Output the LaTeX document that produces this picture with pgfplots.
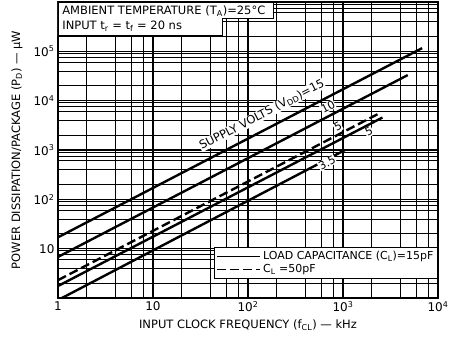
\documentclass[border=0pt]{standalone}
\usepackage{fontspec}
\setmainfont{DejaVu Sans}
\usepackage{pgfplots}
\pgfplotsset{compat=1.18}
\usetikzlibrary{calc}

\newcommand{\sub}[1]{\textsubscript{#1}}
\newcommand{\sps}[1]{\textsuperscript{#1}}

\begin{document}
\begin{tikzpicture}
\begin{axis}[
    scale only axis,
    width=380pt, height=296pt,
    xmode=log, ymode=log,
    xmin=1, xmax=1e4, ymin=1, ymax=1e6,
    xtick={1,10,100,1000,10000},
    xticklabels={1,10,10\sps{2},10\sps{3},10\sps{4}},
    ytick={10,100,1000,10000,100000},
    yticklabels={10,10\sps{2},10\sps{3},10\sps{4},10\sps{5}},
    minor xtick={2,4,6,8,20,40,60,80,200,400,600,800,2000,4000,6000,8000},
    minor ytick={2,4,6,7.5,9,20,40,60,75,90,200,400,600,750,900,2000,4000,6000,7500,9000,
                 20000,40000,60000,75000,90000,200000,400000,600000,750000,900000},
    grid=both,
    major grid style={black, line width=1.3pt},
    minor grid style={black, line width=0.9pt},
    major tick length=0pt, minor tick length=0pt,
    axis line style={black, line width=1.4pt},
    /pgf/number format/assume math mode=true,
    tick label style={font=\fontsize{12}{13}\selectfont},
    xlabel={INPUT CLOCK FREQUENCY (f\sub{CL}) — kHz},
    ylabel={POWER DISSIPATION/PACKAGE (P\sub{D}) — μW},
    label style={font=\fontsize{11.5}{12}\selectfont},
    xlabel style={at={(axis description cs:0.5,-0.091)}, anchor=center},
    ylabel style={at={(axis description cs:-0.108,0.5)}, anchor=center},
    legend style={at={(rel axis cs:1,0.172)}, anchor=north east, draw=black,
        line width=1pt, fill=white, font=\fontsize{11}{12}\selectfont,
        inner sep=2pt, row sep=-1pt, cells={anchor=west}},
    legend image code/.code={\draw[#1, line width=1.3pt] (0pt,0pt) -- (43pt,0pt);},
]
% CL = 15 pF, VDD = 15 V
\addplot[black, line width=2.4pt, no markers] coordinates {(1,17) (6800,116000)};
\addlegendentry{LOAD CAPACITANCE (C\sub{L})=15pF}
% CL = 50 pF, VDD = 5 V
\addplot[black, line width=2.4pt, no markers, dash pattern=on 9pt off 4pt]
    coordinates {(1,2.3) (2500,5750)};
\addlegendentry{C\sub{L} =50pF}
% CL = 15 pF, VDD = 10, 5, 3.5 V
\addplot[black, line width=2.4pt, no markers, forget plot] coordinates {(1,6.8) (4800,33000)};
\addplot[black, line width=2.4pt, no markers, forget plot] coordinates {(1,1.75) (2600,4550)};
\addplot[black, line width=2.4pt, no markers, forget plot] coordinates {(1.1,1) (1050,1000)};

% header box
\filldraw[fill=white, draw=black, line width=1.1pt]
    (rel axis cs:0,1) -- (rel axis cs:0.566,1) -- (rel axis cs:0.566,0.943)
    -- (rel axis cs:0.432,0.943) -- (rel axis cs:0.432,0.885) -- (rel axis cs:0,0.885) -- cycle;
\node[anchor=west, font=\fontsize{11.5}{12}\selectfont, inner sep=0pt]
    at (rel axis cs:0.011,0.970) {AMBIENT TEMPERATURE (T\sub{A})=25°C};
\node[anchor=west, font=\fontsize{11.5}{12}\selectfont, inner sep=0pt]
    at (rel axis cs:0.011,0.919) {INPUT t\sub{r} = t\sub{f} = 20 ns};

% curve labels
\node[fill=white, inner sep=0.5pt, rotate=27.4, font=\fontsize{11.5}{12}\selectfont]
    at (axis cs:140,5150) {SUPPLY VOLTS (V\sub{DD})=15};
\node[fill=white, inner sep=0.5pt, rotate=27.4, font=\fontsize{11}{12}\selectfont]
    at (axis cs:695,7480) {10};
\node[fill=white, inner sep=0.5pt, rotate=27.4, font=\fontsize{11}{12}\selectfont]
    at (axis cs:886,2940) {5};
\node[fill=white, inner sep=0.5pt, rotate=27.4, font=\fontsize{11}{12}\selectfont]
    at (axis cs:1880,2330) {5};
\node[fill=white, inner sep=0.5pt, rotate=27.4, font=\fontsize{11}{12}\selectfont]
    at (axis cs:679,547) {3.5};

\node[anchor=east, font=\fontsize{12}{13}\selectfont]
    at (axis description cs:-0.005,0.966) {10\sps{6}};
\node[anchor=east, font=\fontsize{8.5}{9}\selectfont]
    at (axis description cs:1.01,-0.149) {92CS-17829RI};
\end{axis}
\pgfresetboundingbox
\path[use as bounding box] ($(current axis.south west)+(-58pt,-53pt)$)
    rectangle ($(current axis.north east)+(14pt,2pt)$);
\end{tikzpicture}
\end{document}
